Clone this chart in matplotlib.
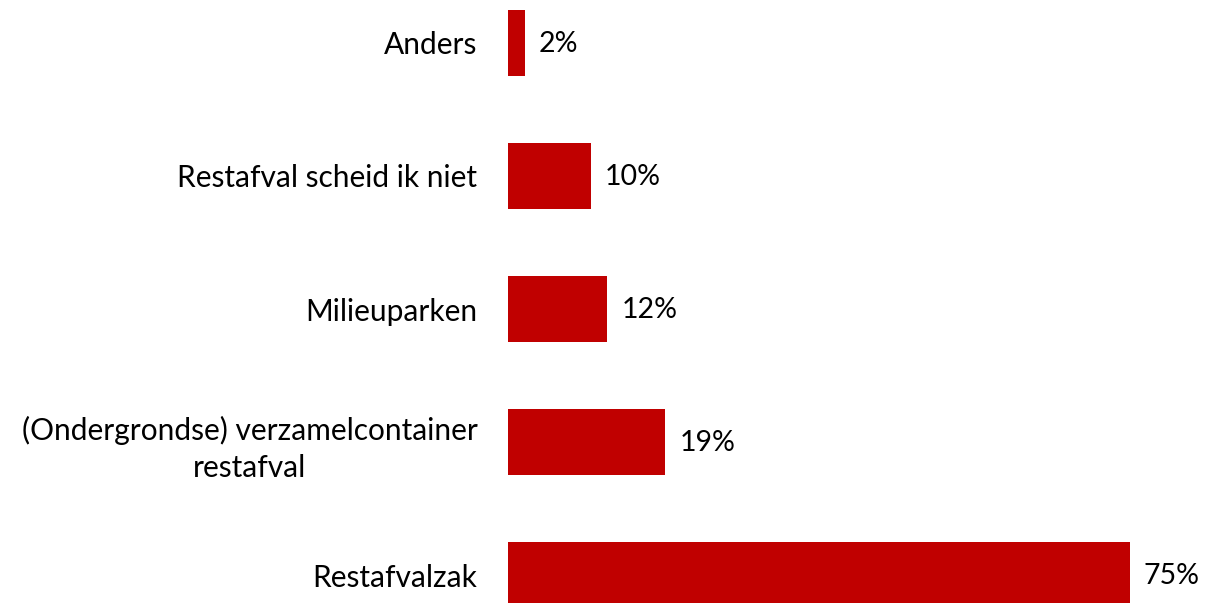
import matplotlib.pyplot as plt

categories = ['Restafvalzak', '(Ondergrondse) verzamelcontainer\nrestafval', 'Milieuparken',
              'Restafval scheid ik niet', 'Anders']
values = [75, 19, 12, 10, 2]

plt.rcParams['font.family'] = ['Lato', 'DejaVu Sans']

fig = plt.figure(figsize=(12.13, 6.03), dpi=100)
ax = fig.add_axes([508 / 1213, 0, (1171 - 508) / 1213, 1])

pos = list(range(len(categories)))
ax.barh(pos, values, height=0.5, color='#C00000')
for p, v in zip(pos, values):
    ax.annotate(f'{v}%', xy=(v, p), xytext=(10, -1), textcoords='offset points',
                va='center', ha='left', fontsize=20.5, color='black')

ax.set_xlim(0, 80)
ax.set_ylim(-0.21, 4.323)
ax.set_yticks(pos)
ax.set_yticklabels(categories, fontsize=21.5, multialignment='center', linespacing=1.4)
ax.tick_params(axis='y', length=0, pad=22)
ax.set_xticks([])
for s in ax.spines.values():
    s.set_visible(False)

fig.savefig('out.png', dpi=100)
